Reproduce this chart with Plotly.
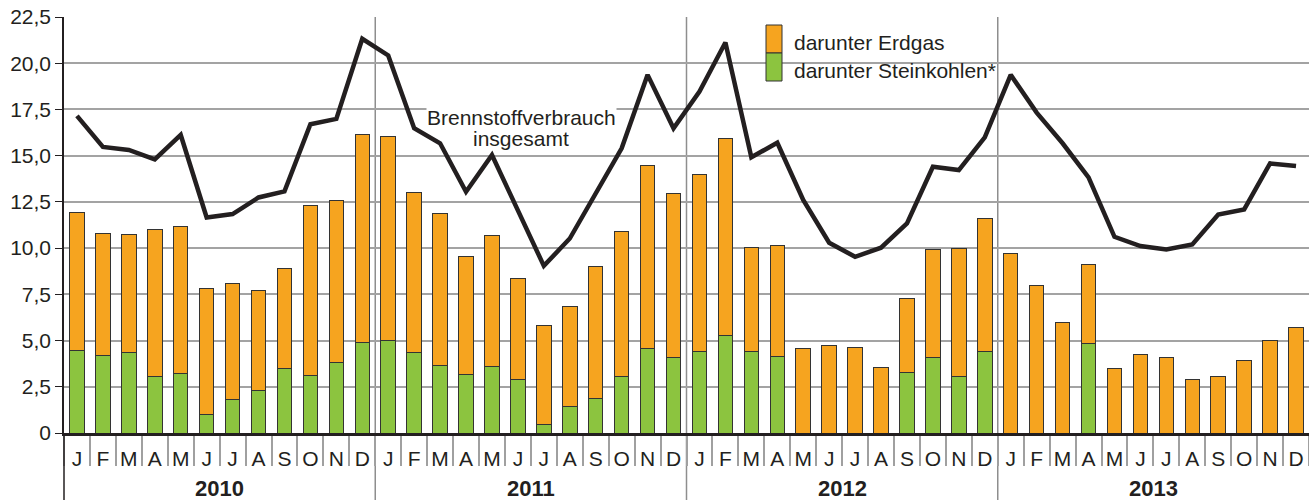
import plotly.graph_objects as go

# ---------------- data ----------------
years = ["2010", "2011", "2012", "2013"]
month_letters = ["J", "F", "M", "A", "M", "J", "J", "A", "S", "O", "N", "D"]

steinkohlen = [
    4.48, 4.19, 4.33, 3.07, 3.21, 0.99, 1.82, 2.31, 3.48, 3.09, 3.83, 4.91,
    5.02, 4.35, 3.63, 3.14, 3.61, 2.92, 0.45, 1.41, 1.84, 3.05, 4.55, 4.06,
    4.42, 5.29, 4.42, 4.15, None, None, None, None, 3.27, 4.08, 3.03, 4.40,
    None, None, None, 4.86, None, None, None, None, None, None, None, None,
]
erdgas = [
    7.43, 6.59, 6.41, 7.92, 7.95, 6.84, 6.28, 5.38, 5.44, 9.20, 8.72, 11.23,
    11.01, 8.68, 8.25, 6.39, 7.08, 5.44, 5.36, 5.41, 7.15, 7.87, 9.94, 8.90,
    9.55, 10.65, 5.60, 5.98, 4.57, 4.75, 4.62, 3.56, 4.00, 5.85, 6.97, 7.21,
    9.71, 8.00, 5.99, 4.24, 3.48, 4.26, 4.08, 2.91, 3.03, 3.92, 5.02, 5.70,
]
insgesamt = [
    17.15, 15.47, 15.31, 14.80, 16.12, 11.66, 11.84, 12.74, 13.07, 16.70, 16.99, 21.32,
    20.42, 16.48, 15.67, 13.05, 15.04, 12.02, 9.04, 10.52, 12.96, 15.40, 19.37, 16.48,
    18.47, 21.12, 14.91, 15.70, 12.60, 10.29, 9.53, 10.02, 11.34, 14.40, 14.22, 15.99,
    19.37, 17.33, 15.67, 13.83, 10.61, 10.11, 9.93, 10.20, 11.82, 12.09, 14.58, 14.44,
]
y_tickvals = [0, 2.5, 5, 7.5, 10, 12.5, 15, 17.5, 20, 22.5]
y_ticktext = ["0", "2,5", "5,0", "7,5", "10,0", "12,5", "15,0", "17,5", "20,0", "22,5"]

# ---------------- styles ----------------
ORANGE = "#F6A41F"
GREEN = "#8CC43F"
DARK = "#231F20"
GRID = "#A3A3A3"
FONT = "Liberation Sans, Arial, Helvetica, sans-serif"
FS = 21

n = len(insgesamt)
x = list(range(n))
month_labels = month_letters * len(years)

fig = go.Figure()
fig.add_trace(go.Bar(
    x=x, y=steinkohlen, name="darunter Steinkohlen*",
    marker=dict(color=GREEN, line=dict(color="#333333", width=1)),
    width=0.56, showlegend=False,
))
fig.add_trace(go.Bar(
    x=x, y=erdgas, name="darunter Erdgas",
    marker=dict(color=ORANGE, line=dict(color="#333333", width=1)),
    width=0.56, showlegend=False,
))
fig.add_trace(go.Scatter(
    x=x, y=insgesamt, mode="lines", name="Brennstoffverbrauch insgesamt",
    line=dict(color=DARK, width=4.5), showlegend=False,
))

W, H = 1309, 500
ML, MR, MT, MB = 64, 0, 17, 67
plot_h = H - MT - MB
below = -MB / plot_h  # paper y of the picture bottom

shapes = []
# white legend box (covers gridlines)
shapes.append(dict(type="rect", xref="paper", yref="paper",
                   x0=(757 - ML) / (W - ML), x1=(997 - ML) / (W - ML),
                   y0=(433 - 90) / plot_h, y1=1,
                   fillcolor="white", line=dict(width=0), layer="between"))
# year separators
for k in range(1, len(years)):
    xs = 12 * k - 0.5
    shapes.append(dict(type="line", xref="x", yref="paper", x0=xs, x1=xs,
                       y0=below, y1=1, line=dict(color="#8E8E8E", width=1.5),
                       layer="between"))
# y-axis line continuing down through the label area
shapes.append(dict(type="line", xref="paper", yref="paper", x0=0, x1=0,
                   y0=below, y1=0, line=dict(color=DARK, width=1.5)))
# legend swatches
lx0, lx1 = (766 - ML) / (W - ML), (782 - ML) / (W - ML)
shapes.append(dict(type="rect", xref="paper", yref="paper", x0=lx0, x1=lx1,
                   y0=(433 - 53) / plot_h, y1=(433 - 25) / plot_h,
                   fillcolor=ORANGE, line=dict(color="#333333", width=1)))
shapes.append(dict(type="rect", xref="paper", yref="paper", x0=lx0, x1=lx1,
                   y0=(433 - 81) / plot_h, y1=(433 - 53) / plot_h,
                   fillcolor=GREEN, line=dict(color="#333333", width=1)))

annotations = []
for i, yr in enumerate(years):
    annotations.append(dict(x=12 * i + 5.5, xref="x", y=(433 - 488) / plot_h, yref="paper",
                            text="<b>%s</b>" % yr, showarrow=False,
                            font=dict(family=FONT, size=22, color=DARK),
                            xanchor="center", yanchor="middle"))
annotations.append(dict(x=(792 - ML) / (W - ML), xref="paper", y=(433 - 42) / plot_h, yref="paper",
                        text="darunter Erdgas", showarrow=False, xanchor="left", yanchor="middle",
                        font=dict(family=FONT, size=FS, color=DARK)))
annotations.append(dict(x=(792 - ML) / (W - ML), xref="paper", y=(433 - 70) / plot_h, yref="paper",
                        text="darunter Steinkohlen*", showarrow=False, xanchor="left", yanchor="middle",
                        font=dict(family=FONT, size=FS, color=DARK)))
annotations.append(dict(x=17.12, xref="x", y=17.05, yref="y", text="Brennstoffverbrauch",
                        showarrow=False, xanchor="center", yanchor="middle", bgcolor="white",
                        borderpad=0, font=dict(family=FONT, size=FS, color=DARK)))
annotations.append(dict(x=17.12, xref="x", y=15.92, yref="y", text="insgesamt",
                        showarrow=False, xanchor="center", yanchor="middle",
                        borderpad=0, font=dict(family=FONT, size=FS, color=DARK)))

fig.update_layout(
    width=W, height=H,
    margin=dict(l=ML, r=MR, t=MT, b=MB, pad=0),
    paper_bgcolor="white", plot_bgcolor="white",
    barmode="stack", bargap=0.44,
    font=dict(family=FONT, size=FS, color=DARK),
    shapes=shapes, annotations=annotations,
    hovermode=False,
)
fig.update_xaxes(
    range=[-0.5, n - 0.5], tickmode="array", tickvals=x, ticktext=month_labels,
    ticks="outside", ticklen=5, tickcolor="rgba(0,0,0,0)",
    tickfont=dict(family=FONT, size=FS, color=DARK),
    showgrid=False, zeroline=False,
    showline=True, linecolor=DARK, linewidth=2.5,
    minor=dict(ticks="outside", tick0=-0.5, dtick=1, ticklen=30,
               tickcolor="#A0A0A0", tickwidth=1.5, showgrid=False),
)
fig.update_yaxes(
    range=[0, 22.5], tickmode="array", tickvals=y_tickvals, ticktext=y_ticktext,
    ticks="outside", ticklen=7, tickcolor=DARK, tickwidth=1.2,
    tickfont=dict(family=FONT, size=FS, color=DARK),
    showgrid=True, gridcolor=GRID, gridwidth=1.5,
    zeroline=False, showline=True, linecolor=DARK, linewidth=1.5,
)

fig.write_html(
    "out.html",
    config={"displayModeBar": False},
    post_script="document.body.style.margin='0';document.body.style.overflow='hidden';",
)
